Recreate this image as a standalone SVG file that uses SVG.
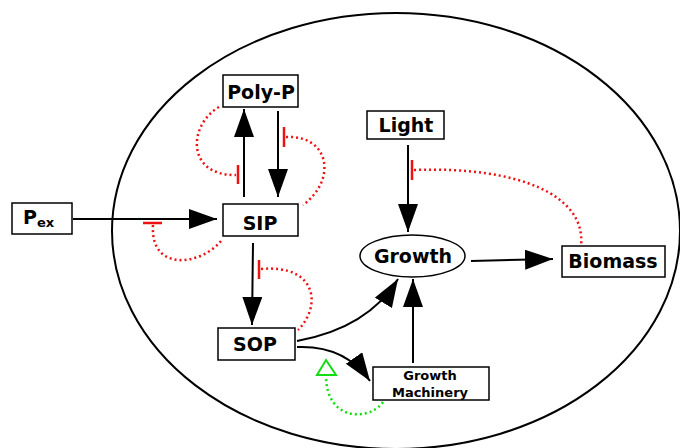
<svg xmlns="http://www.w3.org/2000/svg" width="680" height="448" viewBox="0 0 680 448">
  <defs>
    <style>
      .box { fill: #ffffff; stroke: #000000; stroke-width: 1.5; }
      .cell { fill: none; stroke: #000000; stroke-width: 2; }
      .lbl { font-family: "DejaVu Sans", "Liberation Sans", sans-serif; font-weight: bold; font-size: 19px; fill: #000000; text-anchor: middle; }
      .small { font-size: 13px; }
      .flow { fill: none; stroke: #000000; stroke-width: 2; marker-end: url(#head); }
      .inh { fill: none; stroke: #ee1111; stroke-width: 2.5; stroke-dasharray: 2 3; }
      .bar { stroke: #ee1111; stroke-width: 2.5; }
      .act { fill: none; stroke: #11dd11; stroke-width: 2.5; stroke-dasharray: 2 3; }
    </style>
    <marker id="head" markerUnits="userSpaceOnUse" markerWidth="30" markerHeight="22" refX="28" refY="10" orient="auto">
      <path d="M0,0 L28,10 L0,20 Z" fill="#000000"/>
    </marker>
  </defs>

  <rect width="680" height="448" fill="#ffffff"/>

  <!-- cell boundary -->
  <ellipse class="cell" cx="396" cy="231" rx="284" ry="218"/>

  <!-- connectors -->
  <g id="connectors">
    <line class="flow" x1="73" y1="219" x2="217" y2="219"/>
    <line class="flow" x1="244" y1="197" x2="244" y2="109"/>
    <line class="flow" x1="278" y1="111" x2="278" y2="197"/>
    <line class="flow" x1="253" y1="243" x2="252" y2="325"/>
    <path class="flow" d="M297,341 Q368,328 398,279"/>
    <path class="flow" d="M297,347 Q345,345 370,381"/>
    <line class="flow" x1="413" y1="363" x2="413" y2="279"/>
    <line class="flow" x1="408" y1="145" x2="408" y2="232"/>
    <line class="flow" x1="471" y1="261" x2="553" y2="259"/>

    <!-- inhibitions -->
    <path class="inh" d="M219,107 C188,125 186,176 236,175"/>
    <line class="bar" x1="238" y1="165" x2="238" y2="184"/>

    <path class="inh" d="M286,137 C330,135 337,180 303,205"/>
    <line class="bar" x1="284" y1="127" x2="284" y2="147"/>

    <path class="inh" d="M153,225 C150,272 200,266 221,241"/>
    <line class="bar" x1="143" y1="223" x2="162" y2="223"/>

    <path class="inh" d="M261,269 C317,264 322,306 298,330"/>
    <line class="bar" x1="259" y1="260" x2="259" y2="279"/>

    <path class="inh" d="M414,170 C520,166 586,196 581,245"/>
    <line class="bar" x1="412" y1="160" x2="412" y2="180"/>

    <!-- activation -->
    <path class="act" d="M383,402 C370,421 327,422 326,377"/>
    <path d="M326,360 L336,375 L317,375 Z" fill="none" stroke="#11dd11" stroke-width="2"/>
  </g>

  <g id="pex">
    <rect class="box" x="12" y="203" width="60" height="31"/>
    <text class="lbl" x="23" y="224" style="text-anchor:start">P<tspan font-size="13" dy="3">ex</tspan></text>
  </g>

  <g id="polyp">
    <rect class="box" x="223" y="75" width="75" height="32"/>
    <text class="lbl" x="261" y="99">Poly-P</text>
  </g>

  <g id="sip">
    <rect class="box" x="223" y="204" width="75" height="32"/>
    <text class="lbl" x="260" y="230">SIP</text>
  </g>

  <g id="sop">
    <rect class="box" x="218" y="328" width="77" height="32"/>
    <text class="lbl" x="255" y="351">SOP</text>
  </g>

  <g id="light">
    <rect class="box" x="367" y="111" width="77" height="28"/>
    <text class="lbl" x="406" y="132">Light</text>
  </g>

  <g id="growth">
    <ellipse class="box" cx="412.5" cy="256" rx="52.5" ry="21"/>
    <text class="lbl" x="413" y="263">Growth</text>
  </g>

  <g id="biomass">
    <rect class="box" x="562" y="246" width="103" height="31"/>
    <text class="lbl" x="613" y="268">Biomass</text>
  </g>

  <g id="machinery">
    <rect class="box" x="373" y="367" width="116" height="33"/>
    <text class="lbl small" x="430" y="380">Growth</text>
    <text class="lbl small" x="430" y="397">Machinery</text>
  </g>
</svg>
